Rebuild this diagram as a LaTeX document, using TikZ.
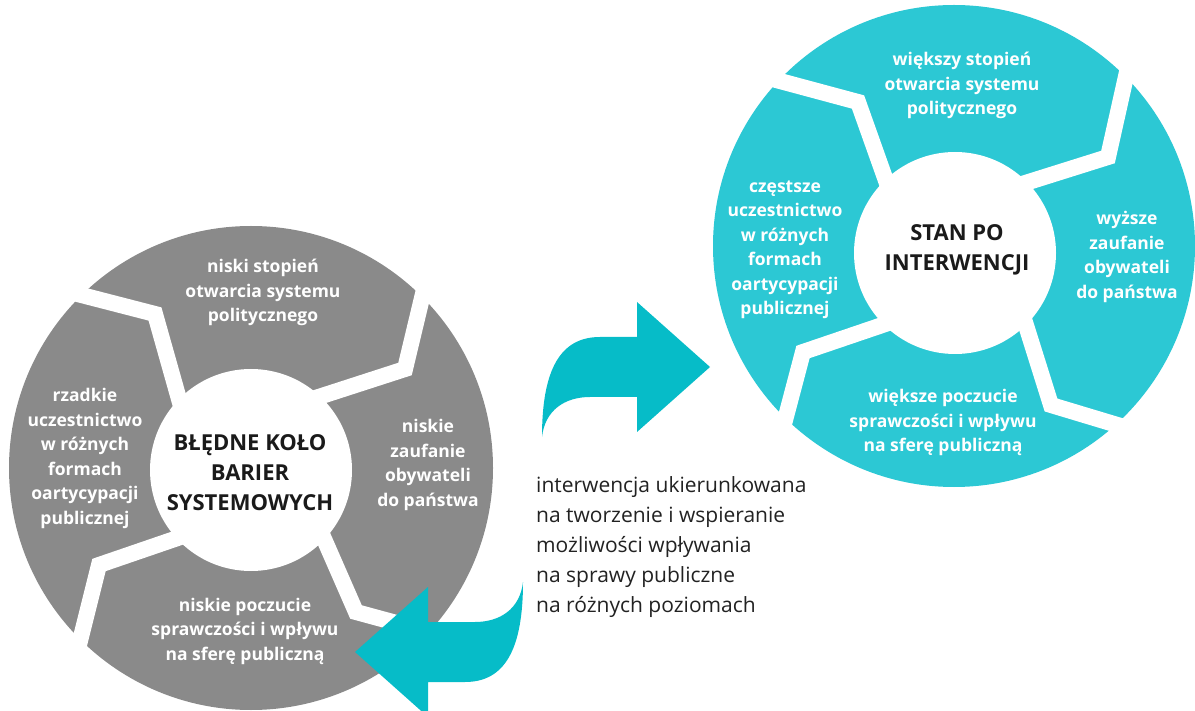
\documentclass[tikz,border=0pt]{standalone}
\usepackage{fontspec}
\setmainfont{Open Sans}
\definecolor{segGray}{HTML}{8A8A8A}
\definecolor{segTeal}{HTML}{2CC8D4}
\definecolor{arrTeal}{HTML}{06BCC8}
\definecolor{darkText}{HTML}{1A1A1A}
\definecolor{bodyText}{HTML}{222222}
\tikzset{
  ring/.style={circle, inner sep=0pt, minimum size=#1},
  gapband/.style={draw=white, line width=16pt, line join=miter, line cap=butt},
  segtext/.style={text=white, font=\bfseries\fontsize{17.5}{24.5}\selectfont, align=center, inner sep=0pt},
  centertext/.style={text=darkText, font=\bfseries\fontsize{22}{30}\selectfont, align=center, inner sep=0pt},
  bodytxt/.style={text=bodyText, font=\fontsize{21}{30}\selectfont, align=left, anchor=west, inner sep=0pt},
  bentarrow/.pic={
    \fill[arrTeal] (9.5,-72.5) .. controls (9.5,-139.5) and (27.5,-172.5) .. (67.5,-172.5)
      -- (104.5,-172.5) -- (104.5,-207.5) -- (177.5,-142.5) -- (104.5,-77.5)
      -- (104.5,-112.5) -- (57.5,-112.5)
      .. controls (32.5,-112.5) and (12.5,-99.5) .. (9.5,-72.5) -- cycle;
  }
}
\begin{document}
\begin{tikzpicture}[x=1pt,y=-1pt]
\useasboundingbox (0,0) rectangle (1195,711);

% ---------- gray cycle ----------
\node[ring=484pt, fill=segGray] (grayOuter) at (251,468) {};
\coordinate (g1o) at (62,290);  \coordinate (g1k) at (155,314); \coordinate (g1i) at (186,424);
\coordinate (g2o) at (427,277); \coordinate (g2k) at (405,369); \coordinate (g2i) at (300,403);
\coordinate (g3o) at (448,637); \coordinate (g3k) at (356,612); \coordinate (g3i) at (314,516);
\coordinate (g4o) at (76,657);  \coordinate (g4k) at (99,565);  \coordinate (g4i) at (201,530);
\draw[gapband] (g1o) -- (g1k) -- (g1i);
\draw[gapband] (g2o) -- (g2k) -- (g2i);
\draw[gapband] (g3o) -- (g3k) -- (g3i);
\draw[gapband] (g4o) -- (g4k) -- (g4i);
\node[ring=202pt, fill=white] (grayInner) at (251,470) {};

\node[segtext] (gTop) at (263,292.5) {niski stopień\\otwarcia systemu\\politycznego};
\node[segtext] (gLeft) at (85,458.5) {rzadkie\\uczestnictwo\\w różnych\\formach\\oartycypacji\\publicznej};
\node[segtext] (gRight) at (428,465) {niskie\\zaufanie\\obywateli\\do państwa};
\node[segtext] (gBottom) at (245,631) {niskie poczucie\\sprawczości i wpływu\\na sferę publiczną};
\node[centertext] (gCenter) at (250,472.5) {BŁĘDNE KOŁO\\BARIER\\SYSTEMOWYCH};

% ---------- teal cycle ----------
\node[ring=482pt, fill=segTeal] (tealOuter) at (954,246) {};
\coordinate (t1o) at (765,77);   \coordinate (t1k) at (858,102);  \coordinate (t1i) at (895,206);
\coordinate (t2o) at (1129,63);  \coordinate (t2k) at (1108,157); \coordinate (t2i) at (1003,190);
\coordinate (t3o) at (1144,433); \coordinate (t3k) at (1051,405); \coordinate (t3i) at (1019,303);
\coordinate (t4o) at (779,443);  \coordinate (t4k) at (803,352);  \coordinate (t4i) at (903,318);
\draw[gapband] (t1o) -- (t1k) -- (t1i);
\draw[gapband] (t2o) -- (t2k) -- (t2i);
\draw[gapband] (t3o) -- (t3k) -- (t3i);
\draw[gapband] (t4o) -- (t4k) -- (t4i);
\node[ring=202pt, fill=white] (tealInner) at (955,253) {};

\node[segtext] (tTop) at (962,85.5) {większy stopień\\otwarcia systemu\\politycznego};
\node[segtext] (tLeft) at (785,250) {częstsze\\uczestnictwo\\w różnych\\formach\\oartycypacji\\publicznej};
\node[segtext] (tRight) at (1127,257) {wyższe\\zaufanie\\obywateli\\do państwa};
\node[segtext] (tBottom) at (943,422.5) {większe poczucie\\sprawczości i wpływu\\na sferę publiczną};
\node[centertext] (tCenter) at (957,250) {STAN PO\\INTERWENCJI};

% ---------- arrows ----------
\pic at (532.5,509.5) {bentarrow};
\pic[rotate=180] at (532.5,509.5) {bentarrow};

% ---------- body text ----------
\node[bodytxt] (body) at (536,547) {interwencja ukierunkowana\\na tworzenie i wspieranie\\możliwości wpływania\\na sprawy publiczne\\na różnych poziomach};
\end{tikzpicture}
\end{document}
